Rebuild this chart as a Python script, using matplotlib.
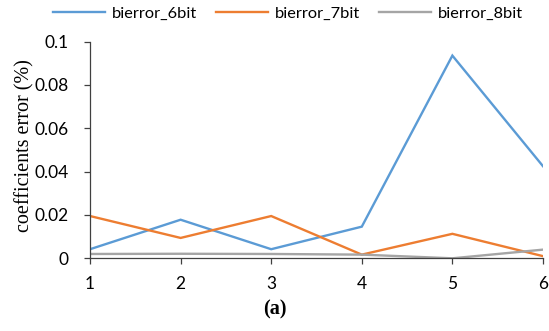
import matplotlib
matplotlib.use("Agg")
import matplotlib.pyplot as plt

x = [1, 2, 3, 4, 5, 6]
bierror_6bit = [0.0042, 0.0178, 0.0042, 0.0146, 0.0935, 0.0425]
bierror_7bit = [0.0195, 0.0094, 0.0195, 0.0017, 0.0113, 0.0010]
bierror_8bit = [0.0020, 0.0021, 0.0020, 0.0017, 0.0000, 0.0040]
labels = ["bierror_6bit", "bierror_7bit", "bierror_8bit"]
colors = ["#5B9BD5", "#ED7D31", "#A5A5A5"]
yticks = [0, 0.02, 0.04, 0.06, 0.08, 0.1]
ytick_labels = ["0", "0.02", "0.04", "0.06", "0.08", "0.1"]

fig = plt.figure(figsize=(5.49, 3.31), dpi=100)
ax = fig.add_axes([0.164, 0.2196, 0.825, 0.655])

for series, lab, c in zip([bierror_6bit, bierror_7bit, bierror_8bit], labels, colors):
    ax.plot(x, series, color=c, lw=1.7, label=lab, solid_joinstyle="miter")

ax.set_xlim(1, 6)
ax.set_ylim(0, 0.1)
ax.set_xticks(x)
ax.set_xticklabels([str(v) for v in x])
ax.set_yticks(yticks)
ax.set_yticklabels(ytick_labels)

for s in ["top", "right"]:
    ax.spines[s].set_visible(False)
for s in ["left", "bottom"]:
    ax.spines[s].set_color("#404040")
    ax.spines[s].set_linewidth(0.9)
ax.tick_params(axis="both", direction="out", length=4.5, width=0.9, color="#404040",
               labelsize=12.5, labelcolor="black")
ax.tick_params(axis="x", pad=8)
ax.tick_params(axis="y", pad=11)
for t in ax.get_xticklabels() + ax.get_yticklabels():
    t.set_fontfamily("Lato")

fig.text(25 / 549, 1 - 145.5 / 331, "coefficients error (%)", rotation=90,
         ha="center", va="center", fontfamily="Liberation Serif", fontsize=14.5)

leg = fig.legend(loc="center", bbox_to_anchor=(0.524, 0.958), ncol=3, frameon=False,
                 prop={"family": "Lato", "size": 11.8}, handlelength=3.2, columnspacing=1.15,
                 handletextpad=0.4)

fig.text(0.5, 0.066, "(a)", ha="center", va="center", fontfamily="Liberation Serif",
         fontweight="bold", fontsize=14.5)

fig.savefig("out.png", dpi=100)
